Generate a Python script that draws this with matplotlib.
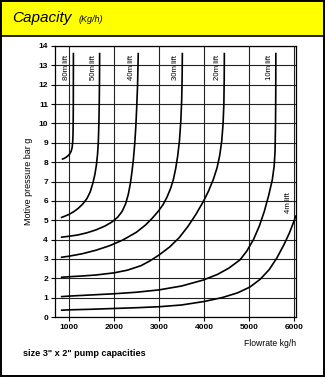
import matplotlib.pyplot as plt
from matplotlib.patches import Rectangle

plt.rcParams['font.family'] = ['Liberation Sans', 'DejaVu Sans']

# pump curves: flowrate (kg/h) against motive pressure (bar g) for each lift
lifts = ['80m lift', '50m lift', '40m lift', '30m lift', '20m lift', '10m lift', '4m lift']

flow_80 = [840, 880, 930, 980, 1020, 1050, 1070, 1082, 1090, 1094, 1097, 1099]
pres_80 = [8.15, 8.18, 8.24, 8.33, 8.43, 8.57, 8.75, 9.0, 9.4, 10.0, 11.0, 13.65]

flow_50 = [820, 900, 1000, 1100, 1200, 1300, 1400, 1470, 1530, 1575, 1610, 1635, 1652,
           1665, 1673, 1679, 1682]
pres_50 = [5.13, 5.2, 5.3, 5.43, 5.6, 5.82, 6.12, 6.45, 6.9, 7.35, 7.85, 8.4, 9.0,
           10.0, 11.0, 12.3, 13.65]

flow_40 = [820, 1000, 1200, 1400, 1600, 1800, 1950, 2080, 2180, 2260, 2320, 2365, 2400,
           2430, 2460, 2485, 2505, 2525, 2540]
pres_40 = [4.12, 4.17, 4.24, 4.35, 4.5, 4.7, 4.9, 5.15, 5.45, 5.85, 6.35, 6.9, 7.5,
           8.1, 8.9, 9.8, 10.8, 12.0, 13.65]

flow_30 = [820, 1000, 1300, 1600, 1900, 2200, 2500, 2700, 2850, 2980, 3090, 3180, 3260,
           3320, 3370, 3415, 3455, 3485, 3505, 3515, 3520]
pres_30 = [3.08, 3.14, 3.27, 3.45, 3.68, 3.98, 4.38, 4.75, 5.1, 5.45, 5.8, 6.2, 6.65,
           7.1, 7.65, 8.3, 9.1, 10.1, 11.2, 12.4, 13.65]

flow_20 = [820, 1000, 1300, 1600, 2000, 2300, 2600, 2800, 3000, 3244, 3450, 3650, 3820,
           3985, 4100, 4207, 4290, 4350, 4395, 4425, 4442, 4450, 4453]
pres_20 = [2.05, 2.08, 2.12, 2.17, 2.28, 2.42, 2.65, 2.9, 3.2, 3.63, 4.1, 4.7, 5.3,
           5.96, 6.5, 7.1, 7.7, 8.35, 9.1, 10.0, 11.0, 12.3, 13.65]

flow_10 = [820, 1000, 1500, 2000, 2500, 3000, 3500, 3985, 4300, 4550, 4800, 4950, 5100,
           5230, 5340, 5440, 5518, 5560, 5580, 5590, 5595, 5597]
pres_10 = [1.05, 1.08, 1.14, 1.2, 1.28, 1.4, 1.6, 1.91, 2.2, 2.52, 2.95, 3.4, 4.0,
           4.7, 5.45, 6.3, 7.08, 7.8, 8.6, 10.0, 11.5, 13.65]

flow_4 = [820, 1000, 1500, 2000, 2500, 3000, 3500, 4000, 4400, 4750, 5022, 5250, 5450,
          5620, 5780, 5900, 6000, 6045]
pres_4 = [0.35, 0.37, 0.4, 0.44, 0.48, 0.53, 0.62, 0.8, 1.0, 1.25, 1.55, 1.95, 2.45,
          3.05, 3.75, 4.35, 4.95, 5.25]

flows = [flow_80, flow_50, flow_40, flow_30, flow_20, flow_10, flow_4]
pressures = [pres_80, pres_50, pres_40, pres_30, pres_20, pres_10, pres_4]

x_ticks = [1000, 2000, 3000, 4000, 5000, 6000]
y_ticks = list(range(0, 15))

fig = plt.figure(figsize=(3.25, 3.78), dpi=100)

# yellow title band and frame
fig.patches.append(Rectangle((0, 1 - 36 / 378), 1, 36 / 378, transform=fig.transFigure,
                             facecolor='#ffff00', edgecolor='black', lw=1.2, zorder=0))
fig.patches.append(Rectangle((0.002, 0.004), 0.994, 0.994, transform=fig.transFigure,
                             facecolor='none', edgecolor='black', lw=1.4, zorder=5))
fig.text(12 / 325, 1 - 18 / 378, 'Capacity', fontsize=11, style='italic', va='center')
fig.text(79 / 325, 1 - 19 / 378, '(Kg/h)', fontsize=6.5, style='italic', va='center')

ax = fig.add_axes([55 / 325, 1 - 317 / 378, 241 / 325, 271 / 378])
for fl, pr, name in zip(flows, pressures, lifts):
    ax.plot(fl, pr, color='black', lw=1.2, solid_joinstyle='round', solid_capstyle='butt')
    if name == '4m lift':
        ax.annotate(name, (fl[-1], pr[-1]), xytext=(-8, 13), textcoords='offset pixels',
                    rotation=90, ha='center', va='center', fontsize=5.6)
    else:
        ax.annotate(name, (fl[-1], pr[-1]), xytext=(-6.5, -15), textcoords='offset pixels',
                    rotation=90, ha='center', va='center', fontsize=5.6)

ax.set_xlim(690, 6045)
ax.set_ylim(0, 14)
ax.set_xticks(x_ticks)
ax.set_yticks(y_ticks)
ax.grid(True, color='#222222', lw=0.8)
ax.set_axisbelow(True)
for s in ax.spines.values():
    s.set_linewidth(0.9)
ax.tick_params(axis='both', length=3, width=0.8, labelsize=6, pad=2)
for lab in ax.get_xticklabels() + ax.get_yticklabels():
    lab.set_fontweight('bold')
ax.set_ylabel('Motive pressure bar g', fontsize=6.5, labelpad=4)

fig.text(296 / 325, 1 - 344 / 378, 'Flowrate kg/h', fontsize=6.2, ha='right', va='center')
fig.text(23 / 325, 1 - 353 / 378, 'size 3" x 2" pump capacities', fontsize=6.6,
         fontweight='bold', va='center')

fig.savefig('out.png', dpi=100)
